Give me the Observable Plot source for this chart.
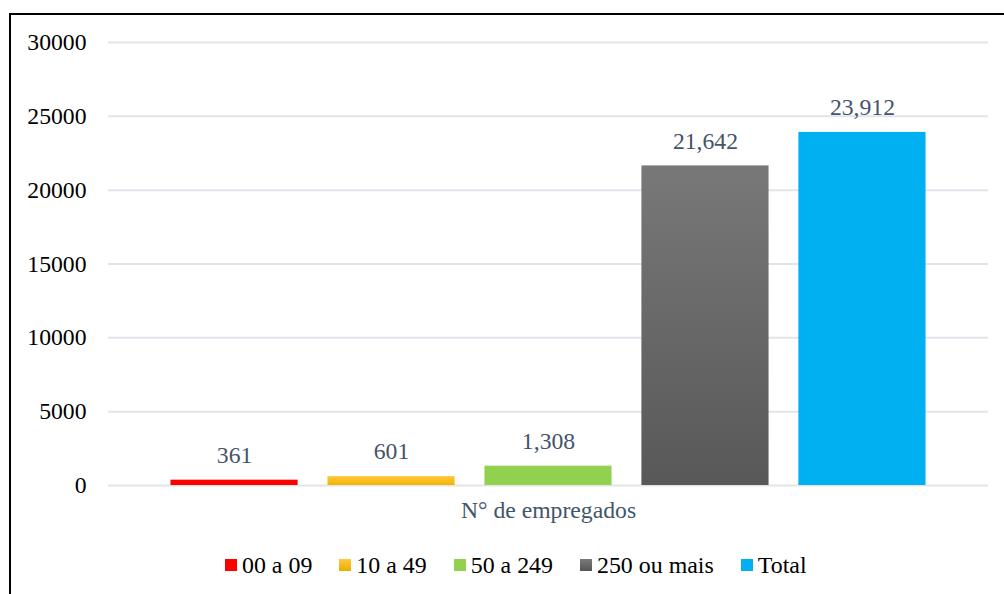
<!DOCTYPE html>
<html><head><meta charset="utf-8">
<script src="https://cdn.jsdelivr.net/npm/d3@7"></script>
<script src="https://cdn.jsdelivr.net/npm/@observablehq/plot@0.6"></script>
<style>
body{margin:0;background:#fff;font-family:"Liberation Serif","Times New Roman",serif;width:1004px;height:594px;overflow:hidden;position:relative;}
#frame{position:absolute;left:9px;top:13px;width:1200px;height:800px;border-left:2px solid #000;border-top:2px solid #000;}
#chart{position:absolute;left:0;top:0;}
#legend{position:absolute;left:225px;top:551px;height:28px;display:flex;align-items:center;font-size:23.9px;line-height:28px;color:#000;white-space:nowrap;}
.item{display:flex;align-items:center;margin-right:27px;}
.sw{width:12px;height:12px;margin-right:5px;}
</style></head>
<body>
<div id="frame"></div>
<div id="chart"></div>
<div id="legend"></div>
<script>
const series = ["00 a 09", "10 a 49", "50 a 249", "250 ou mais", "Total"];
const values = [361, 601, 1308, 21642, 23912];
const yTicks = [0, 5000, 10000, 15000, 20000, 25000, 30000];
const category = "N° de empregados";
const fills = ["#FF0000", "url(#gYellow)", "#92D050", "url(#gGray)", "#00B0F0"];
const legendFills = ["#FF0000", "linear-gradient(#FFC83D,#E8AE00)", "#92D050", "linear-gradient(#7A7A7A,#555555)", "#00B0F0"];

const data = series.map((s, i) => ({series: s, value: values[i]}));
const fmt = d3.format(",");
const FS = 23.7;

const plot = Plot.plot({
  width: 1004,
  height: 530,
  marginLeft: 108,
  marginRight: 16,
  marginTop: 42,
  marginBottom: 45,
  style: {fontFamily: '"Liberation Serif","Times New Roman",serif', background: "transparent"},
  x: {domain: series, axis: null, paddingInner: 0.19, paddingOuter: 0.398, round: false},
  y: {domain: [0, 30000], axis: null},
  color: {domain: series, range: fills},
  marks: [
    Plot.ruleY(yTicks, {stroke: "#E1E5EA", strokeWidth: 2}),
    Plot.axisY({ticks: yTicks, tickSize: 0, tickPadding: 22, tickFormat: d3.format("d"), fontSize: FS, fill: "#000", label: null}),
    Plot.barY(data, {x: "series", y: "value", fill: "series"}),
    Plot.text(data, {x: "series", y: "value", text: d => fmt(d.value), dy: -25, fontSize: FS, fill: "#44546A"}),
    Plot.text([category], {frameAnchor: "bottom", lineAnchor: "middle", dy: 25, text: d => d, fontSize: FS, fill: "#44546A"})
  ]
});

const svg = d3.select(plot);
const defs = svg.insert("defs", ":first-child");
const g1 = defs.append("linearGradient").attr("id", "gYellow").attr("x1", 0).attr("y1", 0).attr("x2", 0).attr("y2", 1);
g1.append("stop").attr("offset", "0%").attr("stop-color", "#FFC83D");
g1.append("stop").attr("offset", "100%").attr("stop-color", "#F0B400");
const g2 = defs.append("linearGradient").attr("id", "gGray").attr("x1", 0).attr("y1", 0).attr("x2", 0).attr("y2", 1);
g2.append("stop").attr("offset", "0%").attr("stop-color", "#787878");
g2.append("stop").attr("offset", "100%").attr("stop-color", "#585858");

document.getElementById("chart").appendChild(plot);

const legend = d3.select("#legend");
series.forEach((s, i) => {
  const it = legend.append("div").attr("class", "item");
  it.append("div").attr("class", "sw").style("background", legendFills[i]);
  it.append("span").text(s);
});
</script>
</body></html>
